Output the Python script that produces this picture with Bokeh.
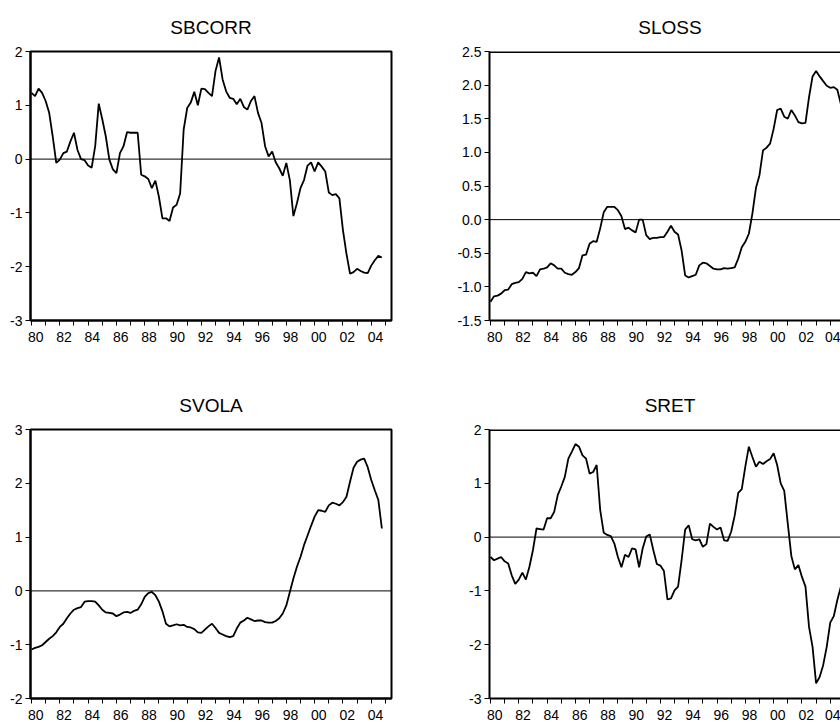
from bokeh.plotting import figure
from bokeh.layouts import column, row
from bokeh.models import (Range1d, FixedTicker, CustomJSTickFormatter,
                          PrintfTickFormatter, Span, ColumnDataSource)
from bokeh.embed import file_html
from bokeh.resources import INLINE

# ---------------- data (quarterly, 1980Q1 - 2004Q4) ----------------
start_year = 1980
n_obs = 100
dates = [start_year + q / 4 for q in range(n_obs)]

sbcorr = [1.23, 1.17, 1.31, 1.23, 1.08, 0.86, 0.42, -0.07, -0.01, 0.11,
          0.14, 0.33, 0.49, 0.17, 0.00, -0.02, -0.12, -0.16, 0.24, 1.03,
          0.74, 0.42, -0.01, -0.19, -0.26, 0.11, 0.24, 0.50, 0.49, 0.49,
          0.49, -0.29, -0.32, -0.37, -0.54, -0.40, -0.70, -1.10, -1.10, -1.15,
          -0.90, -0.85, -0.64, 0.55, 0.95, 1.05, 1.25, 1.00, 1.31, 1.30,
          1.23, 1.17, 1.64, 1.89, 1.48, 1.26, 1.14, 1.12, 1.02, 1.12,
          0.97, 0.92, 1.08, 1.17, 0.86, 0.67, 0.24, 0.05, 0.14, -0.06,
          -0.17, -0.31, -0.07, -0.39, -1.06, -0.82, -0.54, -0.39, -0.12, -0.06,
          -0.23, -0.06, -0.14, -0.23, -0.62, -0.67, -0.65, -0.73, -1.32, -1.76,
          -2.13, -2.10, -2.04, -2.08, -2.11, -2.12, -1.98, -1.88, -1.80, -1.83]

sloss = [-1.22, -1.14, -1.13, -1.10, -1.05, -1.04, -0.96, -0.94, -0.93, -0.88,
         -0.78, -0.80, -0.79, -0.84, -0.74, -0.73, -0.71, -0.65, -0.68, -0.73,
         -0.73, -0.79, -0.81, -0.82, -0.78, -0.72, -0.53, -0.52, -0.36, -0.32,
         -0.33, -0.13, 0.11, 0.19, 0.19, 0.19, 0.14, 0.05, -0.14, -0.12,
         -0.16, -0.19, 0.00, 0.00, -0.23, -0.29, -0.27, -0.27, -0.26, -0.26,
         -0.18, -0.09, -0.18, -0.22, -0.46, -0.83, -0.86, -0.84, -0.82, -0.68,
         -0.64, -0.65, -0.69, -0.73, -0.74, -0.74, -0.72, -0.73, -0.72, -0.71,
         -0.58, -0.41, -0.33, -0.21, 0.09, 0.47, 0.66, 1.03, 1.07, 1.13,
         1.35, 1.63, 1.65, 1.53, 1.50, 1.63, 1.55, 1.45, 1.43, 1.44,
         1.82, 2.13, 2.21, 2.13, 2.06, 1.99, 1.96, 1.97, 1.93, 1.72]

svola = [-1.09, -1.06, -1.04, -1.01, -0.95, -0.89, -0.84, -0.77, -0.67, -0.61,
         -0.51, -0.42, -0.35, -0.32, -0.30, -0.20, -0.19, -0.19, -0.20, -0.27,
         -0.35, -0.40, -0.41, -0.42, -0.47, -0.44, -0.40, -0.39, -0.41, -0.37,
         -0.35, -0.25, -0.11, -0.04, -0.02, -0.08, -0.20, -0.38, -0.61, -0.66,
         -0.64, -0.62, -0.64, -0.63, -0.67, -0.68, -0.71, -0.77, -0.78, -0.72,
         -0.66, -0.61, -0.69, -0.78, -0.81, -0.84, -0.86, -0.84, -0.70, -0.59,
         -0.55, -0.50, -0.53, -0.56, -0.55, -0.55, -0.58, -0.59, -0.59, -0.56,
         -0.51, -0.42, -0.27, -0.02, 0.23, 0.45, 0.63, 0.85, 1.03, 1.21,
         1.38, 1.50, 1.49, 1.47, 1.59, 1.64, 1.62, 1.59, 1.65, 1.75,
         2.03, 2.29, 2.40, 2.44, 2.46, 2.30, 2.06, 1.87, 1.69, 1.16]

sret = [-0.37, -0.43, -0.40, -0.37, -0.45, -0.49, -0.71, -0.87, -0.79, -0.66,
        -0.79, -0.55, -0.24, 0.16, 0.15, 0.14, 0.35, 0.35, 0.47, 0.78,
        0.94, 1.12, 1.46, 1.59, 1.73, 1.68, 1.52, 1.46, 1.18, 1.21,
        1.34, 0.50, 0.08, 0.04, 0.02, -0.12, -0.37, -0.56, -0.33, -0.37,
        -0.21, -0.23, -0.56, -0.21, 0.01, 0.05, -0.24, -0.50, -0.53, -0.63,
        -1.16, -1.14, -0.99, -0.92, -0.43, 0.14, 0.22, -0.04, -0.06, -0.04,
        -0.18, -0.13, 0.25, 0.19, 0.14, 0.18, -0.06, -0.07, 0.10, 0.40,
        0.82, 0.89, 1.31, 1.68, 1.49, 1.31, 1.40, 1.36, 1.41, 1.45,
        1.56, 1.34, 1.00, 0.86, 0.25, -0.35, -0.60, -0.52, -0.74, -0.92,
        -1.67, -2.04, -2.72, -2.60, -2.38, -2.04, -1.59, -1.47, -1.17, -0.92]

titles = ["SBCORR", "SLOSS", "SVOLA", "SRET"]
y_limits = [(-3, 2), (-1.5, 2.5), (-2, 3), (-3, 2)]
y_ticks = [[-3, -2, -1, 0, 1, 2],
           [-1.5, -1.0, -0.5, 0.0, 0.5, 1.0, 1.5, 2.0, 2.5],
           [-2, -1, 0, 1, 2, 3],
           [-3, -2, -1, 0, 1, 2]]
y_formats = ["%d", "%.1f", "%d", "%d"]
year_ticks = list(range(1980, 2006))          # a tick mark every year
label_years = list(range(1980, 2005, 2))      # "80", "82", ..., "04"

# ---------------- styling ----------------
FONT = "Liberation Sans"
TITLE_PX = 19
X_START = 1979.93
X_END_FULL = 2005.43
LABEL_SHIFT = 0.3
# approximate Arial/Liberation Sans advance widths (em) for title letters
CHAR_EM = {"S": 0.667, "B": 0.667, "C": 0.722, "O": 0.778, "R": 0.722,
           "L": 0.556, "V": 0.667, "A": 0.667, "E": 0.667, "T": 0.611}


def text_width(s, px):
    return sum(CHAR_EM.get(c, 0.6) for c in s) * px


def make_panel(title, values, ylim, yticks, yfmt, width, height,
               mb_left, mb_right, mb_top, mb_bottom, x_end, full_frame,
               nominal_frame_w):
    p = figure(width=width, height=height, output_backend="svg",
               toolbar_location=None,
               x_range=Range1d(X_START, x_end),
               y_range=Range1d(ylim[0], ylim[1]),
               min_border_left=mb_left, min_border_right=mb_right,
               min_border_top=mb_top, min_border_bottom=mb_bottom)
    p.title.text = title
    p.title.text_font = FONT
    p.title.text_font_size = "%dpx" % TITLE_PX
    p.title.text_font_style = "normal"
    p.title.text_color = "black"
    p.title.vertical_align = "top"
    p.title.standoff = 23
    if full_frame:
        p.title.align = "center"
    else:
        # centre the title over the (uncut) frame width
        p.title.align = "left"
        p.title.offset = nominal_frame_w / 2 - text_width(title, TITLE_PX) / 2
    p.grid.visible = False
    p.background_fill_color = "white"
    p.border_fill_color = "white"
    if full_frame:
        p.outline_line_color = "black"
        p.outline_line_width = 2
        p.outline_line_alpha = 1.0
    else:
        p.outline_line_color = None
        p.add_layout(Span(location=ylim[1], dimension="width",
                          line_color="black", line_width=3))

    src = ColumnDataSource(dict(x=dates, y=values))
    p.line("x", "y", source=src, line_color="black", line_width=1.8)

    p.add_layout(Span(location=0, dimension="width", line_color="black",
                      line_width=1))

    # x axis
    xa = p.xaxis[0]
    xa.ticker = FixedTicker(ticks=[y + LABEL_SHIFT for y in label_years],
                            minor_ticks=year_ticks)
    xa.formatter = CustomJSTickFormatter(
        code="return String(Math.floor(tick + 1e-6) % 100).padStart(2, '0');")
    xa.major_tick_out = 0
    xa.major_tick_in = 0
    xa.minor_tick_out = 5
    xa.minor_tick_in = 0
    xa.minor_tick_line_color = "black"
    xa.minor_tick_line_width = 1
    xa.axis_line_width = 2
    xa.axis_line_color = "black"
    xa.major_label_standoff = 6
    xa.major_label_text_font = FONT
    xa.major_label_text_font_size = "14px"
    xa.major_label_text_color = "black"

    # y axis
    ya = p.yaxis[0]
    ya.ticker = FixedTicker(ticks=yticks, minor_ticks=[])
    ya.formatter = PrintfTickFormatter(format=yfmt)
    ya.major_tick_out = 5
    ya.major_tick_in = 0
    ya.minor_tick_out = 0
    ya.minor_tick_in = 0
    ya.major_tick_line_color = "black"
    ya.major_tick_line_width = 1
    ya.axis_line_width = 2
    ya.axis_line_color = "black"
    ya.major_label_standoff = 3
    ya.major_label_text_font = FONT
    ya.major_label_text_font_size = "14px"
    ya.major_label_text_color = "black"
    return p


series = [sbcorr, sloss, svola, sret]

# geometry: left column 430 px wide, right column 410 px (cut at window edge)
LEFT_W, RIGHT_W = 430, 410
TOP_H, BOT_H = 378, 344
LEFT_FRAME_W = 361
RIGHT_FRAME_W = RIGHT_W - 59
px_per_year = LEFT_FRAME_W / (X_END_FULL - X_START)
X_END_CUT = X_START + RIGHT_FRAME_W / px_per_year

panels = []
for i in range(4):
    is_left = (i % 2 == 0)
    is_top = (i < 2)
    w = LEFT_W if is_left else RIGHT_W
    h = TOP_H if is_top else BOT_H
    mb_left = 30 if is_left else 59
    mb_right = (LEFT_W - 30 - LEFT_FRAME_W) if is_left else 0
    mb_top = 51
    mb_bottom = (TOP_H - 51 - 269) if is_top else 24
    x_end = X_END_FULL if is_left else X_END_CUT
    panels.append(make_panel(titles[i], series[i], y_limits[i], y_ticks[i],
                             y_formats[i], w, h, mb_left, mb_right, mb_top,
                             mb_bottom, x_end, is_left, LEFT_FRAME_W))

layout = column(row(panels[0], panels[1]), row(panels[2], panels[3]))

open("out.html", "w").write(file_html(layout, INLINE))
